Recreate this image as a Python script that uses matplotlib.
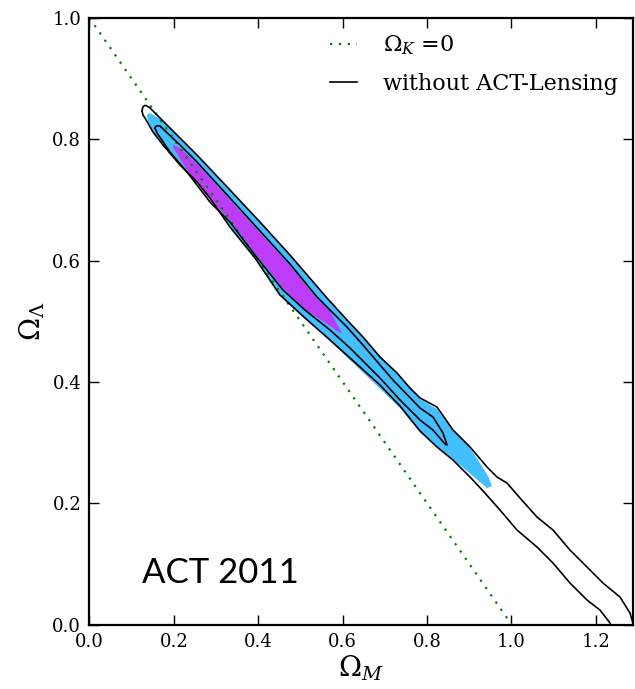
import matplotlib
matplotlib.use('Agg')
import matplotlib.pyplot as plt
from matplotlib.ticker import FormatStrFormatter, MultipleLocator

plt.rcParams['font.family'] = 'serif'
plt.rcParams['font.serif'] = ['DejaVu Serif']
plt.rcParams['mathtext.fontset'] = 'dejavuserif'

# flat universe line, Omega_K = 0
ok_x = [0.0, 1.0]
ok_y = [1.0, 0.0]

# ACT + lensing, 95% region (blue)
blue_x = [0.1363, 0.1434, 0.1671, 0.1979, 0.2145, 0.2547, 0.3329, 0.4040, 0.4751,
          0.5628, 0.6481, 0.7287, 0.7832, 0.8235, 0.8614, 0.8898, 0.9254, 0.9443,
          0.9538, 0.9420, 0.8945, 0.8472, 0.8069, 0.7832, 0.7358, 0.6173, 0.5699,
          0.5107, 0.4514, 0.3922, 0.3329, 0.2855, 0.2547, 0.2145, 0.1742, 0.1552,
          0.1386]
blue_y = [0.8401, 0.8434, 0.8335, 0.8137, 0.8005, 0.7725, 0.7148, 0.6620, 0.6076,
          0.5367, 0.4723, 0.4131, 0.3718, 0.3553, 0.3190, 0.3026, 0.2663, 0.2448,
          0.2284, 0.2251, 0.2531, 0.2811, 0.3026, 0.3174, 0.3570, 0.4361, 0.4675,
          0.5037, 0.5416, 0.6026, 0.6554, 0.7032, 0.7312, 0.7593, 0.7889, 0.8087,
          0.8285]

# ACT + lensing, 68% region (purple)
purple_x = [0.1979, 0.2145, 0.2547, 0.3329, 0.4040, 0.4751, 0.5391, 0.5699, 0.5983,
            0.5889, 0.5699, 0.5107, 0.4585, 0.3922, 0.3329, 0.2855, 0.2310, 0.2050,
            0.1979]
purple_y = [0.7906, 0.7857, 0.7593, 0.6998, 0.6455, 0.5911, 0.5367, 0.5161, 0.4806,
            0.4827, 0.4922, 0.5202, 0.5548, 0.6125, 0.6669, 0.6998, 0.7494, 0.7791,
            0.7873]

# without ACT-Lensing, 95% contour (upper branch then lower branch)
out95_x = [0.1244, 0.1262, 0.1300, 0.1350, 0.1434, 0.1742, 0.2145, 0.2547, 0.2927,
           0.3329, 0.4040, 0.4751, 0.5628, 0.6102, 0.6481, 0.6884, 0.7287, 0.7595,
           0.7832, 0.8235, 0.8614, 0.9017, 0.9420, 0.9656, 0.9893, 1.0201, 1.0604,
           1.0983, 1.1386, 1.1789, 1.2168, 1.2571, 1.2808, 1.2930]
out95_y = [0.8467, 0.8525, 0.8556, 0.8555, 0.8516, 0.8302, 0.8021, 0.7741, 0.7461,
           0.7164, 0.6636, 0.6092, 0.5383, 0.5021, 0.4740, 0.4411, 0.4147, 0.3899,
           0.3735, 0.3586, 0.3207, 0.2927, 0.2597, 0.2432, 0.2333, 0.2086, 0.1772,
           0.1558, 0.1228, 0.0948, 0.0684, 0.0453, 0.0190, -0.0100]
low95_x = [0.1244, 0.1268, 0.1315, 0.1505, 0.1742, 0.2145, 0.2547, 0.2855, 0.3329,
           0.3922, 0.4514, 0.5107, 0.5699, 0.6173, 0.6884, 0.7358, 0.7832, 0.8235,
           0.8614, 0.9017, 0.9348, 0.9727, 1.0130, 1.0604, 1.0983, 1.1386, 1.1789,
           1.2097, 1.2334, 1.2400]
low95_y = [0.8467, 0.8400, 0.8351, 0.8120, 0.7906, 0.7576, 0.7296, 0.7032, 0.6554,
           0.6043, 0.5433, 0.5054, 0.4691, 0.4394, 0.3949, 0.3603, 0.3190, 0.2927,
           0.2712, 0.2432, 0.2185, 0.1888, 0.1558, 0.1278, 0.1014, 0.0684, 0.0404,
           0.0239, 0.0025, -0.0100]

# without ACT-Lensing, 68% contour (closed)
in68_x = [0.1552, 0.1590, 0.1671, 0.2145, 0.2547, 0.3329, 0.4040, 0.4751, 0.5391,
          0.5699, 0.6102, 0.6481, 0.6884, 0.7192, 0.7832, 0.8140, 0.8377, 0.8472,
          0.8424, 0.8140, 0.7832, 0.7358, 0.6884, 0.6173, 0.5699, 0.5107, 0.4585,
          0.3922, 0.3329, 0.2855, 0.2310, 0.1908, 0.1600, 0.1552]
in68_y = [0.8186, 0.8225, 0.8219, 0.7906, 0.7626, 0.7032, 0.6488, 0.5944, 0.5400,
          0.5185, 0.4905, 0.4608, 0.4279, 0.4031, 0.3570, 0.3421, 0.3157, 0.2960,
          0.2976, 0.3207, 0.3372, 0.3702, 0.4064, 0.4559, 0.4856, 0.5185, 0.5515,
          0.6092, 0.6636, 0.6966, 0.7461, 0.7791, 0.8104, 0.8186]

fig = plt.figure(figsize=(6.35, 6.89), dpi=100)
ax = fig.add_axes([0.1409, 0.0936, 0.856, 0.8803])

ax.fill(blue_x, blue_y, color='#41bfff', lw=0)
ax.fill(purple_x, purple_y, color='#bd3cf7', lw=0)

ax.plot(ok_x, ok_y, color='green', lw=1.6, ls=(0, (1, 3)), label=r'$\Omega_K$ =0')
ax.plot(out95_x, out95_y, color='black', lw=1.2, label='without ACT-Lensing')
ax.plot(low95_x, low95_y, color='black', lw=1.2)
ax.plot(in68_x, in68_y, color='black', lw=1.2)

ax.text(0.124, 0.068, 'ACT 2011', fontsize=25, family='Lato')

ax.set_xlim(0, 1.288)
ax.set_ylim(0, 1.0)
ax.xaxis.set_major_locator(MultipleLocator(0.2))
ax.yaxis.set_major_locator(MultipleLocator(0.2))
ax.xaxis.set_major_formatter(FormatStrFormatter('%.1f'))
ax.yaxis.set_major_formatter(FormatStrFormatter('%.1f'))
ax.tick_params(direction='in', top=True, right=True, length=7, width=1,
               labelsize=13, pad=6)
for sp in ax.spines.values():
    sp.set_linewidth(1.6)

ax.set_xlabel(r'$\Omega_M$', fontsize=20, labelpad=2)
ax.set_ylabel(r'$\Omega_\Lambda$', fontsize=20, labelpad=4)

ax.legend(loc='upper right', frameon=False, fontsize=16, handlelength=1.2,
          handletextpad=1.15, labelspacing=0.7, borderaxespad=0.3)

fig.savefig('out.png', dpi=100)
